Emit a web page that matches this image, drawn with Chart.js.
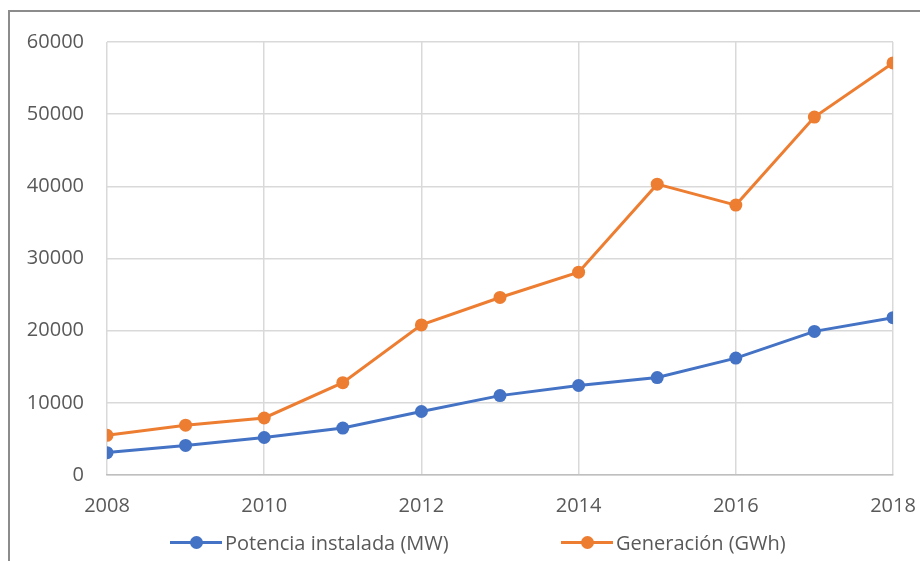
<!DOCTYPE html>
<html>
<head>
<meta charset="utf-8">
<script src="https://cdn.jsdelivr.net/npm/chart.js@4"></script>
<style>
    html, body { margin: 0; padding: 0; background: #fff; }
    body { width: 920px; height: 561px; position: relative; overflow: hidden; font-family: 'Open Sans', sans-serif; }
    .ramka { position: absolute; left: 8px; top: 10px; width: 940px; height: 600px; border-top: 2px solid #8c8c8c; border-left: 2px solid #8c8c8c; box-sizing: border-box; }
    .plotno { position: absolute; left: 0; top: 0; width: 920px; height: 561px; }
    .legenda { position: absolute; top: 530px; left: 0; height: 26px; font-size: 20px; color: #595959; }
    .wpis { position: absolute; top: 0; white-space: nowrap; line-height: 26px; }
    .znak { position: absolute; top: 11px; width: 52px; height: 3px; }
    .znak i { position: absolute; left: 20px; top: -5px; width: 13px; height: 13px; border-radius: 50%; }
    .wpis span { position: absolute; left: 55px; top: 0; }
</style>
</head>
<body>
<div class="ramka"></div>
<div class="plotno"><canvas id="wykres"></canvas></div>
<div class="legenda" id="legenda"></div>
<script>
const LATA = [2008, 2009, 2010, 2011, 2012, 2013, 2014, 2015, 2016, 2017, 2018];
const POTENCIA = [3100, 4100, 5200, 6500, 8800, 11000, 12400, 13500, 16200, 19900, 21800];
const GENERACION = [5500, 6900, 7900, 12800, 20800, 24600, 28100, 40300, 37400, 49600, 57100];
const ETYKIETY = ['Potencia instalada (MW)', 'Generación (GWh)'];
const KOLORY = ['#4472C4', '#ED7D31'];
const POZYCJE_LEGENDY = [170, 561];

const serie = [POTENCIA, GENERACION].map((wartosci, i) => ({
    label: ETYKIETY[i],
    data: LATA.map((rok, j) => ({ x: rok, y: wartosci[j] })),
    borderColor: KOLORY[i],
    backgroundColor: KOLORY[i],
    borderWidth: 3,
    pointRadius: 6.5,
    pointHoverRadius: 6.5,
    pointBorderWidth: 0,
    tension: 0
}));

const czcionka = { family: "'Open Sans', sans-serif", size: 20 };

new Chart(document.getElementById('wykres'), {
    type: 'line',
    data: { datasets: serie },
    options: {
        responsive: true,
        maintainAspectRatio: false,
        animation: false,
        layout: { padding: { left: 8, top: 42, right: 27, bottom: 36 } },
        plugins: { legend: { display: false }, tooltip: { enabled: false } },
        scales: {
            x: {
                type: 'linear',
                min: 2008, max: 2018,
                grid: { color: '#d9d9d9', lineWidth: 1.5, drawTicks: false },
                border: { color: '#bfbfbf', width: 1.5 },
                ticks: { stepSize: 2, padding: 19, color: '#595959', font: czcionka, callback: v => String(v) },
                afterFit: s => { s.height = 50; s.paddingLeft = 0; s.paddingRight = 0; }
            },
            y: {
                min: 0, max: 60000,
                grid: { color: '#d9d9d9', lineWidth: 1.5, drawTicks: false },
                border: { display: false },
                ticks: { stepSize: 10000, padding: 23, color: '#595959', font: czcionka, callback: v => String(v) },
                afterFit: s => { s.width = 99; s.paddingTop = 0; s.paddingBottom = 0; }
            }
        }
    }
});

document.getElementById('legenda').innerHTML = ETYKIETY.map((t, i) => `
    <div class="wpis" style="left:${POZYCJE_LEGENDY[i]}px">
        <div class="znak" style="background:${KOLORY[i]}"><i style="background:${KOLORY[i]}"></i></div>
        <span>${t}</span>
    </div>
`).join('');
</script>
</body>
</html>
